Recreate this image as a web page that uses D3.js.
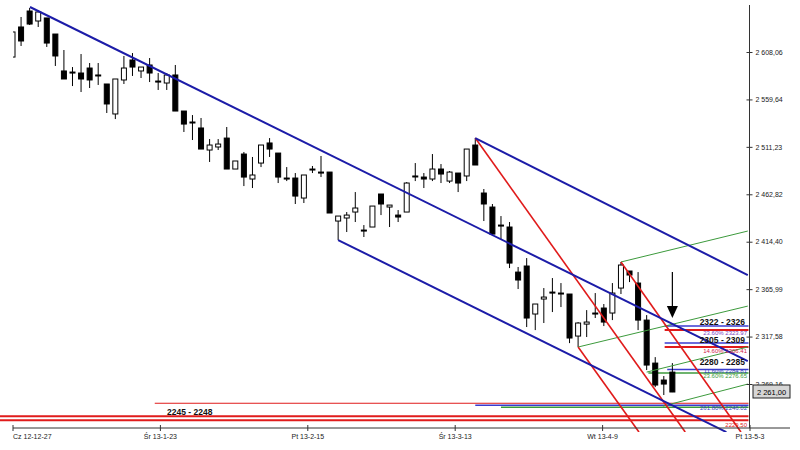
<!DOCTYPE html>
<html><head><meta charset="utf-8">
<script src="https://cdn.jsdelivr.net/npm/d3@7"></script>
<style>
body{margin:0;background:#fff}
svg{display:block}
text{font-family:"Liberation Sans",Arial,sans-serif}
</style>
</head><body>
<svg id="c" width="800" height="450"></svg>
<script>
// ---- data ----
const opens  = [2602.9,2633.6,2649.9,2639.7,2642.8,2626.4,2588.7,2587.6,2586.6,2591.7,
                2584.6,2575.4,2544.8,2579.5,2599.9,2588.7,2594.8,2578.4,2576.4,2584.6,
                2547.8,2536.6,2530.5,2508.0,2511.1,2520.2,2488.6,2503.9,2478.4,2494.7,
                2515.2,2504.9,2479.4,2479.4,2459.0,2488.6,2485.5,2485.5,2435.5,2438.6,
                2444.7,2426.3,2429.4,2463.1,2449.8,2441.6,2444.7,2481.5,2480.4,2478.4,
                2488.6,2476.3,2484.5,2481.5,2513.1,2464.1,2449.8,2431.4,2429.4,2383.4,
                2389.6,2340.6,2355.9,2363.0,2361.0,2361.0,2318.1,2330.3,2341.6,2346.7,
                2341.6,2367.1,2384.5,2372.2,2334.4,2290.5,2273.2,2281.3];
const highs  = [2628.5,2643.8,2653.0,2650.9,2642.8,2626.4,2610.1,2592.7,2606.0,2596.8,
                2596.8,2575.4,2580.5,2604.0,2607.0,2592.7,2601.9,2586.6,2586.6,2594.8,
                2547.8,2543.7,2540.7,2519.2,2519.2,2531.5,2496.8,2506.0,2500.9,2513.1,
                2520.2,2504.9,2490.6,2484.5,2482.5,2491.7,2501.9,2485.5,2440.6,2444.7,
                2465.1,2431.4,2450.8,2463.1,2451.8,2446.7,2475.3,2494.7,2484.5,2503.9,
                2493.7,2486.6,2484.5,2509.0,2520.2,2468.2,2452.9,2440.6,2434.5,2388.6,
                2397.7,2350.8,2367.1,2377.3,2372.2,2361.0,2332.4,2344.6,2362.0,2350.8,
                2372.2,2393.7,2384.5,2383.4,2339.5,2296.6,2277.3,2290.5];
const lows   = [2602.9,2614.2,2635.6,2633.6,2613.2,2593.8,2580.5,2573.3,2567.2,2571.3,
                2574.4,2545.8,2539.6,2575.4,2583.6,2581.5,2577.4,2569.3,2569.3,2547.8,
                2526.4,2518.2,2509.0,2495.8,2508.0,2488.6,2488.6,2471.2,2469.2,2490.6,
                2500.9,2474.3,2476.3,2452.9,2453.9,2484.5,2480.4,2443.7,2416.1,2424.3,
                2434.5,2419.2,2429.4,2441.6,2429.4,2434.5,2444.7,2476.3,2469.2,2476.3,
                2474.3,2474.3,2465.1,2476.3,2492.7,2435.5,2421.2,2417.1,2387.5,2366.1,
                2327.3,2324.2,2331.4,2342.6,2347.7,2310.9,2306.9,2317.1,2336.5,2328.3,
                2334.4,2361.0,2373.2,2324.2,2283.4,2266.0,2257.9,2260.9];
const closes = [2628.5,2619.3,2636.6,2648.9,2617.2,2604.0,2580.5,2587.0,2580.5,2579.5,
                2584.0,2555.0,2580.5,2591.7,2592.7,2592.7,2586.6,2578.0,2584.6,2547.8,
                2534.5,2536.0,2509.0,2513.1,2514.1,2488.6,2496.8,2480.4,2482.5,2513.1,
                2509.0,2480.4,2479.0,2461.0,2482.5,2488.0,2484.5,2443.7,2440.6,2441.6,
                2448.8,2426.0,2450.8,2452.9,2451.8,2439.6,2474.3,2481.0,2478.4,2488.6,
                2483.5,2485.5,2474.3,2509.0,2492.7,2452.9,2422.2,2431.0,2392.6,2375.3,
                2336.5,2350.8,2357.9,2362.0,2362.0,2316.1,2331.4,2332.4,2341.0,2332.4,
                2362.0,2390.6,2380.4,2334.4,2288.5,2268.1,2269.1,2261.0];

const xTickPos    = [0, 17.2, 34.4, 51.6, 68.8, 86];
const xTickLabels = ["Cz 12-12-27","Śr 13-1-23","Pt 13-2-15","Śr 13-3-13","Wt 13-4-9","Pt 13-5-3"];
const yTicks = [2608.06,2559.64,2511.23,2462.82,2414.40,2365.99,2317.58,2269.16];
const lastPrice = 2261.00;

// trend lines: [[barIndex, value],[barIndex, value]]
const blueLines  = [[[2.04,2654.0],[85.8,2292.6]],
                    [[38,2416.1],[83.3,2220.1]],
                    [[54,2520.2],[85.8,2380.4]]];
const redLines   = [[[54,2520.2],[78.5,2220.1]],
                    [[66,2306.9],[73.1,2220.1]],
                    [[71,2393.7],[85,2220.1]]];
const greenLines = [[[71,2393.7],[85.8,2425.3]],
                    [[66,2306.9],[85.8,2348.7]],
                    [[74,2281.3],[85.8,2306.9]],
                    [[75.9,2246.6],[85.8,2269.1]]];

// horizontal levels: [value, start bar]
const redLevels      = [[2324.2,76.1],[2306.9,76.1]];
const redThinLevels  = [[2249.5,16.6]];
const redThickLevels = [[2236.3,-1.5],[2232.2,-1.5]];
const blueLevels     = [[2328.3,76.1],[2310.9,76.1],[2284.0,76.4],[2247.5,54]];
const greenLevels    = [[2280.3,74.2],[2245.5,57]];

const zoneLabels      = ["2322 - 2326","2305 - 2309","2280 - 2285","2245 - 2248"];
const zoneLabelValues = [2332.4,2314.0,2291.5,2240.7];
const fibLabels       = ["23.60% 2323.97","14.60% 2306.41","11.60% 2284.81","23.60% 2276.65","261.80% 2246.02","2229.50"];
const fibLabelValues  = [2321.2,2302.9,2282.4,2277.3,2244.6,2227.2];
const arrowBar = 77, arrowTop = 2383.4, arrowTip = 2336.5;

// ---- drawing ----
const svg = d3.select("#c");
const x = d3.scaleLinear().domain([0,86]).range([12.5,749.5]);
const y = d3.scaleLinear().domain([2608.06,2269.16]).range([52,384]);
const axisX = x(86), axisY = 428;

const defs = svg.append("defs");
defs.append("clipPath").attr("id","plot").append("rect")
  .attr("x",13).attr("y",0).attr("width",axisX-13).attr("height",432);
defs.append("clipPath").attr("id","wide").append("rect")
  .attr("x",0).attr("y",0).attr("width",axisX-1).attr("height",432);

// horizontal levels
const hl = svg.append("g").attr("clip-path","url(#wide)");
function levels(arr, color, w){
  hl.selectAll(null).data(arr).enter().append("line")
    .attr("x1",d=>x(d[1])).attr("x2",x(86))
    .attr("y1",d=>y(d[0])).attr("y2",d=>y(d[0]))
    .attr("stroke",color).attr("stroke-width",w);
}
levels(redThickLevels,"#e01b1b",2);
levels(redThinLevels,"#e01b1b",1);
levels(blueLevels,"#3b3bd0",1.5);
levels(greenLevels,"#3c9a3c",1.5);
levels(redLevels,"#e01b1b",2);

// candles
const cg = svg.append("g").attr("clip-path","url(#plot)");
const idx = d3.range(opens.length);
cg.selectAll("line.w").data(idx).enter().append("line")
  .attr("x1",i=>x(i)).attr("x2",i=>x(i))
  .attr("y1",i=>y(highs[i])).attr("y2",i=>y(lows[i]))
  .attr("stroke","#000").attr("stroke-width",1);
cg.selectAll("rect.b").data(idx).enter().append("rect")
  .attr("x",i=>x(i)-2.5).attr("width",5)
  .attr("y",i=>y(Math.max(opens[i],closes[i])))
  .attr("height",i=>Math.max(1,Math.abs(y(opens[i])-y(closes[i]))))
  .attr("fill",i=>closes[i]<opens[i]?"#000":"#fff")
  .attr("stroke","#000").attr("stroke-width",1);

// diagonal lines
const dl = svg.append("g").attr("clip-path","url(#wide)");
const lineGen = d3.line().x(d=>x(d[0])).y(d=>y(d[1]));
function diag(arr,color,w){
  dl.selectAll(null).data(arr).enter().append("path")
    .attr("d",lineGen).attr("fill","none").attr("stroke",color).attr("stroke-width",w);
}
diag(greenLines,"#3c9a3c",1);
diag(redLines,"#e01b1b",1.6);
diag(blueLines,"#1c1ca8",2);

// arrow
svg.append("line").attr("x1",x(arrowBar)).attr("x2",x(arrowBar))
  .attr("y1",y(arrowTop)).attr("y2",y(arrowTip)-8)
  .attr("stroke","#000").attr("stroke-width",1.2);
svg.append("path")
  .attr("d",`M${x(arrowBar)-5.5},${y(arrowTip)-12}L${x(arrowBar)+5.5},${y(arrowTip)-12}L${x(arrowBar)},${y(arrowTip)}Z`)
  .attr("fill","#000");

// zone labels
svg.selectAll("text.z").data(zoneLabels).enter().append("text")
  .attr("x",(d,i)=>i<3?745:167)
  .attr("y",(d,i)=>y(zoneLabelValues[i]))
  .attr("dy","0.35em")
  .attr("text-anchor",(d,i)=>i<3?"end":"start")
  .attr("font-size",8.5).attr("font-weight","bold").attr("fill","#111")
  .text(d=>d);
const fibColors = ["#7a3fbf","#d0204a","#3040c0","#3c9a3c","#3040c0","#e01b1b"];
svg.selectAll("text.f").data(fibLabels).enter().append("text")
  .attr("x",747).attr("y",(d,i)=>y(fibLabelValues[i]))
  .attr("dy","0.35em").attr("text-anchor","end")
  .attr("font-size",6).attr("fill",(d,i)=>fibColors[i])
  .text(d=>d);

// axes
const pl = d3.formatLocale({decimal:",",thousands:"\u00a0",grouping:[3],currency:["",""]});
const fmt = pl.format(",.2f");
svg.append("line").attr("x1",axisX).attr("x2",axisX).attr("y1",5).attr("y2",axisY)
  .attr("stroke","#333").attr("stroke-width",1);
svg.append("line").attr("x1",13).attr("x2",790).attr("y1",axisY).attr("y2",axisY)
  .attr("stroke","#333").attr("stroke-width",1);

const ya = svg.append("g").attr("transform",`translate(${axisX-3},0)`)
  .call(d3.axisRight(y).tickValues(yTicks).tickFormat(fmt).tickSize(6).tickPadding(3));
ya.select(".domain").remove();
ya.selectAll("line").attr("stroke","#333");
ya.selectAll("text").attr("font-size",7).attr("fill","#222").attr("font-family","Liberation Sans, Arial, sans-serif");

const xa = svg.append("g").attr("transform",`translate(0,${axisY-3})`)
  .call(d3.axisBottom(x).tickValues(xTickPos).tickFormat((d,i)=>xTickLabels[i]).tickSize(6).tickPadding(3));
xa.select(".domain").remove();
xa.selectAll("line").attr("stroke","#333");
xa.selectAll("text").attr("font-size",7).attr("fill","#222").attr("font-family","Liberation Sans, Arial, sans-serif")
  .attr("text-anchor",(d,i)=>i===0?"start":"middle");

// last price tag
const ty = y(lastPrice);
svg.append("rect").attr("x",753).attr("y",ty-7).attr("width",37).attr("height",13)
  .attr("fill","#d6d6d6").attr("stroke","#222").attr("stroke-width",1);
svg.append("text").attr("x",771.5).attr("y",ty).attr("dy","0.35em")
  .attr("text-anchor","middle").attr("font-size",7.5).attr("fill","#000")
  .text(fmt(lastPrice));
</script>
</body></html>
